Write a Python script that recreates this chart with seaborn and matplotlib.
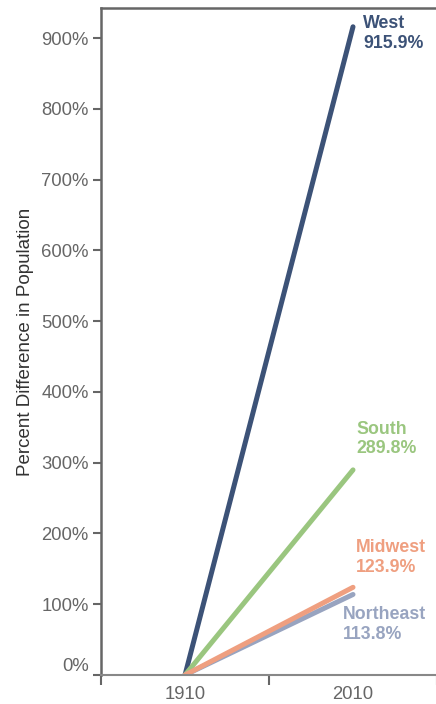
import matplotlib
matplotlib.use("Agg")
import matplotlib.pyplot as plt
import seaborn as sns
import pandas as pd
from matplotlib.ticker import FixedLocator, FuncFormatter

regions = ["West", "South", "Northeast", "Midwest"]
years = ["1910", "2010"]
start_values = [0.0, 0.0, 0.0, 0.0]
end_values = [915.9, 289.8, 113.8, 123.9]
colors = ["#3c5277", "#9ac67f", "#98a4c0", "#ef9f80"]
label_x = [1.06, 1.018, 0.94, 1.018]
label_y = [906.0, 333.4, 71.0, 166.0]
y_ticks = [0, 100, 200, 300, 400, 500, 600, 700, 800, 900]

rows = []
for r, s, e in zip(regions, start_values, end_values):
    rows.append({"Year": years[0], "Region": r, "Value": s})
    rows.append({"Year": years[1], "Region": r, "Value": e})
df = pd.DataFrame(rows)

sns.set_theme(style="white")
plt.rcParams["font.family"] = ["Liberation Sans", "DejaVu Sans"]

fig = plt.figure(figsize=(4.36, 7.04), dpi=100)
ax = fig.add_axes([0.2317, 0.0412, 0.7706, 0.9474])

sns.lineplot(data=df, x="Year", y="Value", hue="Region", hue_order=regions,
             palette=dict(zip(regions, colors)), linewidth=3.6, ax=ax,
             legend=False, estimator=None, sort=False)
for ln in ax.get_lines():
    ln.set_solid_capstyle("round")

for r, e, c, lx, ly in zip(regions, end_values, colors, label_x, label_y):
    ax.text(lx, ly, f"{r}\n{e:.1f}%", color=c, fontsize=12.8, fontweight="bold",
            va="center", ha="left", linespacing=1.22)

ax.set_xlim(-0.5, 1.5)
ax.set_ylim(0, 942.4)
ax.yaxis.set_major_locator(FixedLocator(y_ticks))
ax.yaxis.set_major_formatter(FuncFormatter(lambda v, p: f"{v:.0f}%"))
ax.set_xticks([0, 1])
ax.set_xticklabels(years)
ax.set_xticks([-0.5, 0.5, 1.5], minor=True)
ax.tick_params(axis="x", which="major", length=0, pad=8, labelsize=13.3, labelcolor="#666666")
ax.tick_params(axis="x", which="minor", bottom=True, length=7.5, width=1.5, color="#666666", direction="out")
ax.tick_params(axis="y", which="major", left=True, length=6, width=1.5, color="#666666",
               labelsize=13.3, labelcolor="#666666", pad=3)

ax.set_xlabel("")
ax.set_ylabel("Percent Difference in Population", fontsize=13.5, color="#333333", labelpad=5)

for side in ["left", "top"]:
    ax.spines[side].set_color("#666666")
    ax.spines[side].set_linewidth(1.8)
ax.spines["right"].set_visible(False)
ax.spines["bottom"].set_color("#888888")
ax.spines["bottom"].set_linewidth(1.5)
ax.spines["bottom"].set_linestyle((0, (1.5, 1)))

fig.canvas.draw()
ylabels = ax.get_yticklabels()
if ylabels:
    ylabels[0].set_va("bottom")

fig.savefig("out.png", dpi=100)
